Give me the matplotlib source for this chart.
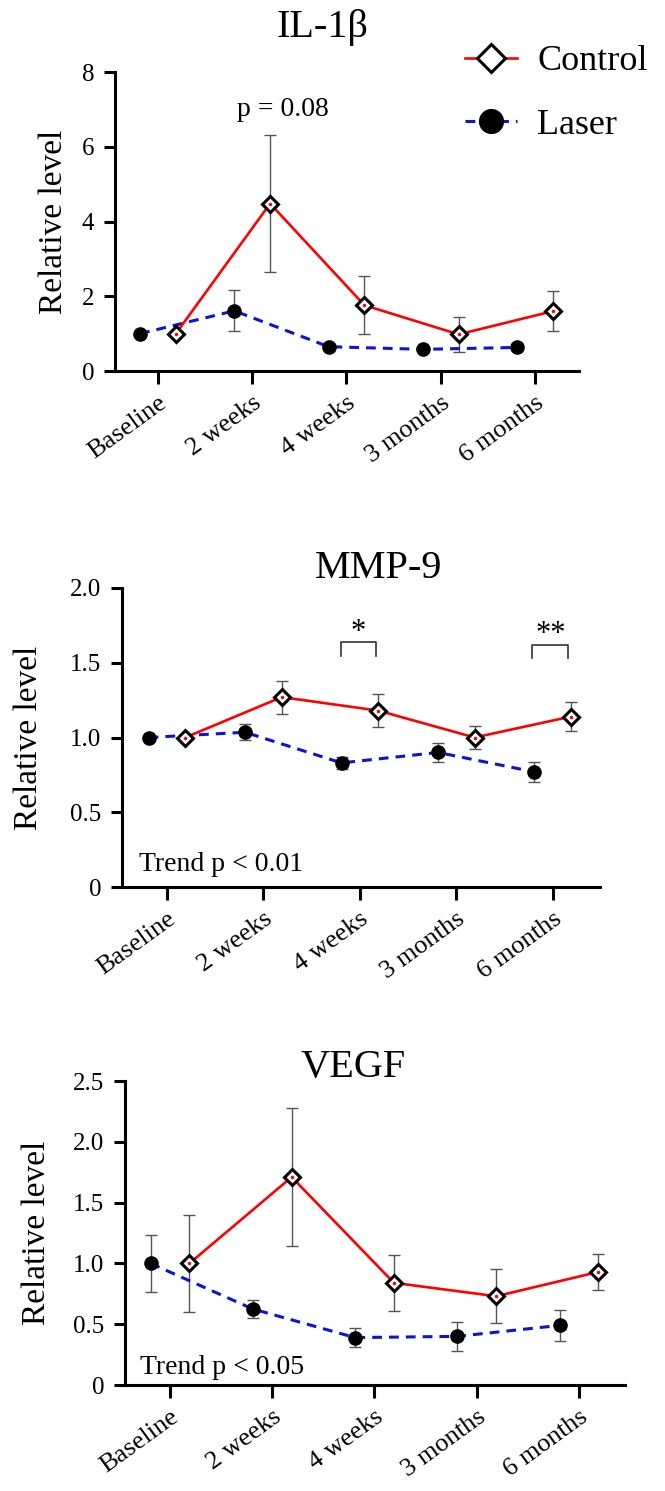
import matplotlib
matplotlib.use('Agg')
import matplotlib.pyplot as plt
import matplotlib.transforms as mtransforms
import numpy as np

plt.rcParams['font.family'] = ['Liberation Serif', 'DejaVu Serif']

# time points on the x axis
timepoints = ['Baseline', '2 weeks', '4 weeks', '3 months', '6 months']

# IL-1b
il1b_control = [1.0, 4.48, 1.76, 0.98, 1.60]
il1b_control_err = [0.0, 1.84, 0.77, 0.46, 0.54]
il1b_laser = [1.0, 1.61, 0.65, 0.58, 0.63]
il1b_laser_err = [0.0, 0.55, 0.05, 0.05, 0.07]

# MMP-9
mmp9_control = [1.0, 1.27, 1.18, 1.0, 1.14]
mmp9_control_err = [0.0, 0.11, 0.11, 0.08, 0.095]
mmp9_laser = [1.0, 1.035, 0.83, 0.90, 0.77]
mmp9_laser_err = [0.0, 0.055, 0.04, 0.065, 0.065]

# VEGF
vegf_control = [1.0, 1.71, 0.84, 0.73, 0.93]
vegf_control_err = [0.40, 0.57, 0.23, 0.22, 0.15]
vegf_laser = [1.0, 0.625, 0.39, 0.40, 0.49]
vegf_laser_err = [0.235, 0.075, 0.08, 0.12, 0.13]

RED = '#ff0000'
BLUE = '#0a14d2'
GRAY = '#555555'
W, H = 665, 1491


def draw_panel(ax, control, control_err, laser, laser_err, ymax, yticks, yticklabels, xlim):
    x = np.arange(len(timepoints))
    xl = x - 0.19
    xc = x + 0.19

    ax.errorbar(xl, laser, yerr=laser_err, fmt='none', ecolor=GRAY, elinewidth=1,
                capsize=4.5, capthick=1, zorder=2, clip_on=False)
    ax.errorbar(xc, control, yerr=control_err, fmt='none', ecolor=GRAY, elinewidth=1,
                capsize=4.5, capthick=1, zorder=2, clip_on=False)
    hl, = ax.plot(xl, laser, color=BLUE, ls=(0, (3.2, 2.3)), lw=2.2, marker='o', ms=9.5,
                  mfc='black', mec='black', zorder=3, clip_on=False)
    hc, = ax.plot(xc, control, color=RED, lw=1.9, marker='D', ms=8, mfc='white',
                  mec='black', mew=2.2, zorder=4, clip_on=False)
    ax.plot(xc, control, ls='none', marker='.', ms=3, color=RED, zorder=5, clip_on=False)

    ax.set_xlim(*xlim)
    ax.set_ylim(0, ymax)
    ax.set_yticks(yticks)
    ax.set_yticklabels(yticklabels)
    ax.set_xticks(x)
    ax.set_xticklabels(timepoints, rotation=36, ha='right', va='top', rotation_mode='anchor')
    # nudge the rotated labels a little to the right
    shift = mtransforms.ScaledTranslation(8 / 100, 0, fig.dpi_scale_trans)
    for lab in ax.get_xticklabels():
        lab.set_transform(lab.get_transform() + shift)

    for s in ['top', 'right']:
        ax.spines[s].set_visible(False)
    for s in ['left', 'bottom']:
        ax.spines[s].set_linewidth(2.2)
    ax.tick_params(axis='y', direction='out', length=8, width=2.2, pad=7, labelsize=18)
    ax.tick_params(axis='x', direction='out', length=9, width=2.2, pad=6, labelsize=19)
    ax.text(-0.2, 0.5, 'Relative level', transform=ax.transAxes, rotation=90,
            ha='center', va='center', fontsize=24)
    return hc, hl


fig = plt.figure(figsize=(W / 100, H / 100), dpi=100)

ax1 = fig.add_axes([115 / W, 1 - 371 / H, 464 / W, 299 / H])
ax2 = fig.add_axes([122 / W, 1 - 887 / H, 478 / W, 299 / H])
ax3 = fig.add_axes([125 / W, 1 - 1385 / H, 500 / W, 304 / H])

hc, hl = draw_panel(ax1, il1b_control, il1b_control_err, il1b_laser, il1b_laser_err,
                    8, [0, 2, 4, 6, 8], ['0', '2', '4', '6', '8'], (-0.456, 4.467))
draw_panel(ax2, mmp9_control, mmp9_control_err, mmp9_laser, mmp9_laser_err,
           2.0, [0, 0.5, 1.0, 1.5, 2.0], ['0', '0.5', '1.0', '1.5', '2.0'], (-0.466, 4.49))
draw_panel(ax3, vegf_control, vegf_control_err, vegf_laser, vegf_laser_err,
           2.5, [0, 0.5, 1.0, 1.5, 2.0, 2.5], ['0', '0.5', '1.0', '1.5', '2.0', '2.5'], (-0.44, 4.45))

# y label positions differ a little between panels
ax1.texts[-1].set_x(-0.133)
ax2.texts[-1].set_x(-0.195)
ax3.texts[-1].set_x(-0.176)

# titles
fig.text(323 / W, 1 - 28 / H, 'IL-1β', ha='center', va='center', fontsize=29)
fig.text(379 / W, 1 - 568 / H, 'MMP-9', ha='center', va='center', fontsize=29)
fig.text(353 / W, 1 - 1068 / H, 'VEGF', ha='center', va='center', fontsize=29)

# annotations
ax1.text(1.33, 7.0, 'p = 0.08', ha='center', va='center', fontsize=20)

ax2.plot([1.8, 1.8, 2.17, 2.17], [1.545, 1.64, 1.64, 1.545], color='#333333', lw=1.2)
ax2.text(1.985, 1.70, '*', ha='center', va='center', fontsize=22)
ax2.plot([3.79, 3.79, 4.16, 4.16], [1.53, 1.62, 1.62, 1.53], color='#333333', lw=1.2)
ax2.text(3.975, 1.69, '**', ha='center', va='center', fontsize=22)

ax2.text(-0.29, 0.15, 'Trend p < 0.01', ha='left', va='center', fontsize=20)
ax3.text(-0.29, 0.14, 'Trend p < 0.05', ha='left', va='center', fontsize=20)

fig.legend(handles=[hc, hl], labels=['Control', 'Laser'], loc='center left',
           bbox_to_anchor=(465 / W, 1 - 93.5 / H), frameon=False, fontsize=26,
           handlelength=1.45, handletextpad=0.55, labelspacing=0.85,
           borderpad=0, borderaxespad=0, markerscale=1.8)

fig.savefig('out.png', dpi=100)
